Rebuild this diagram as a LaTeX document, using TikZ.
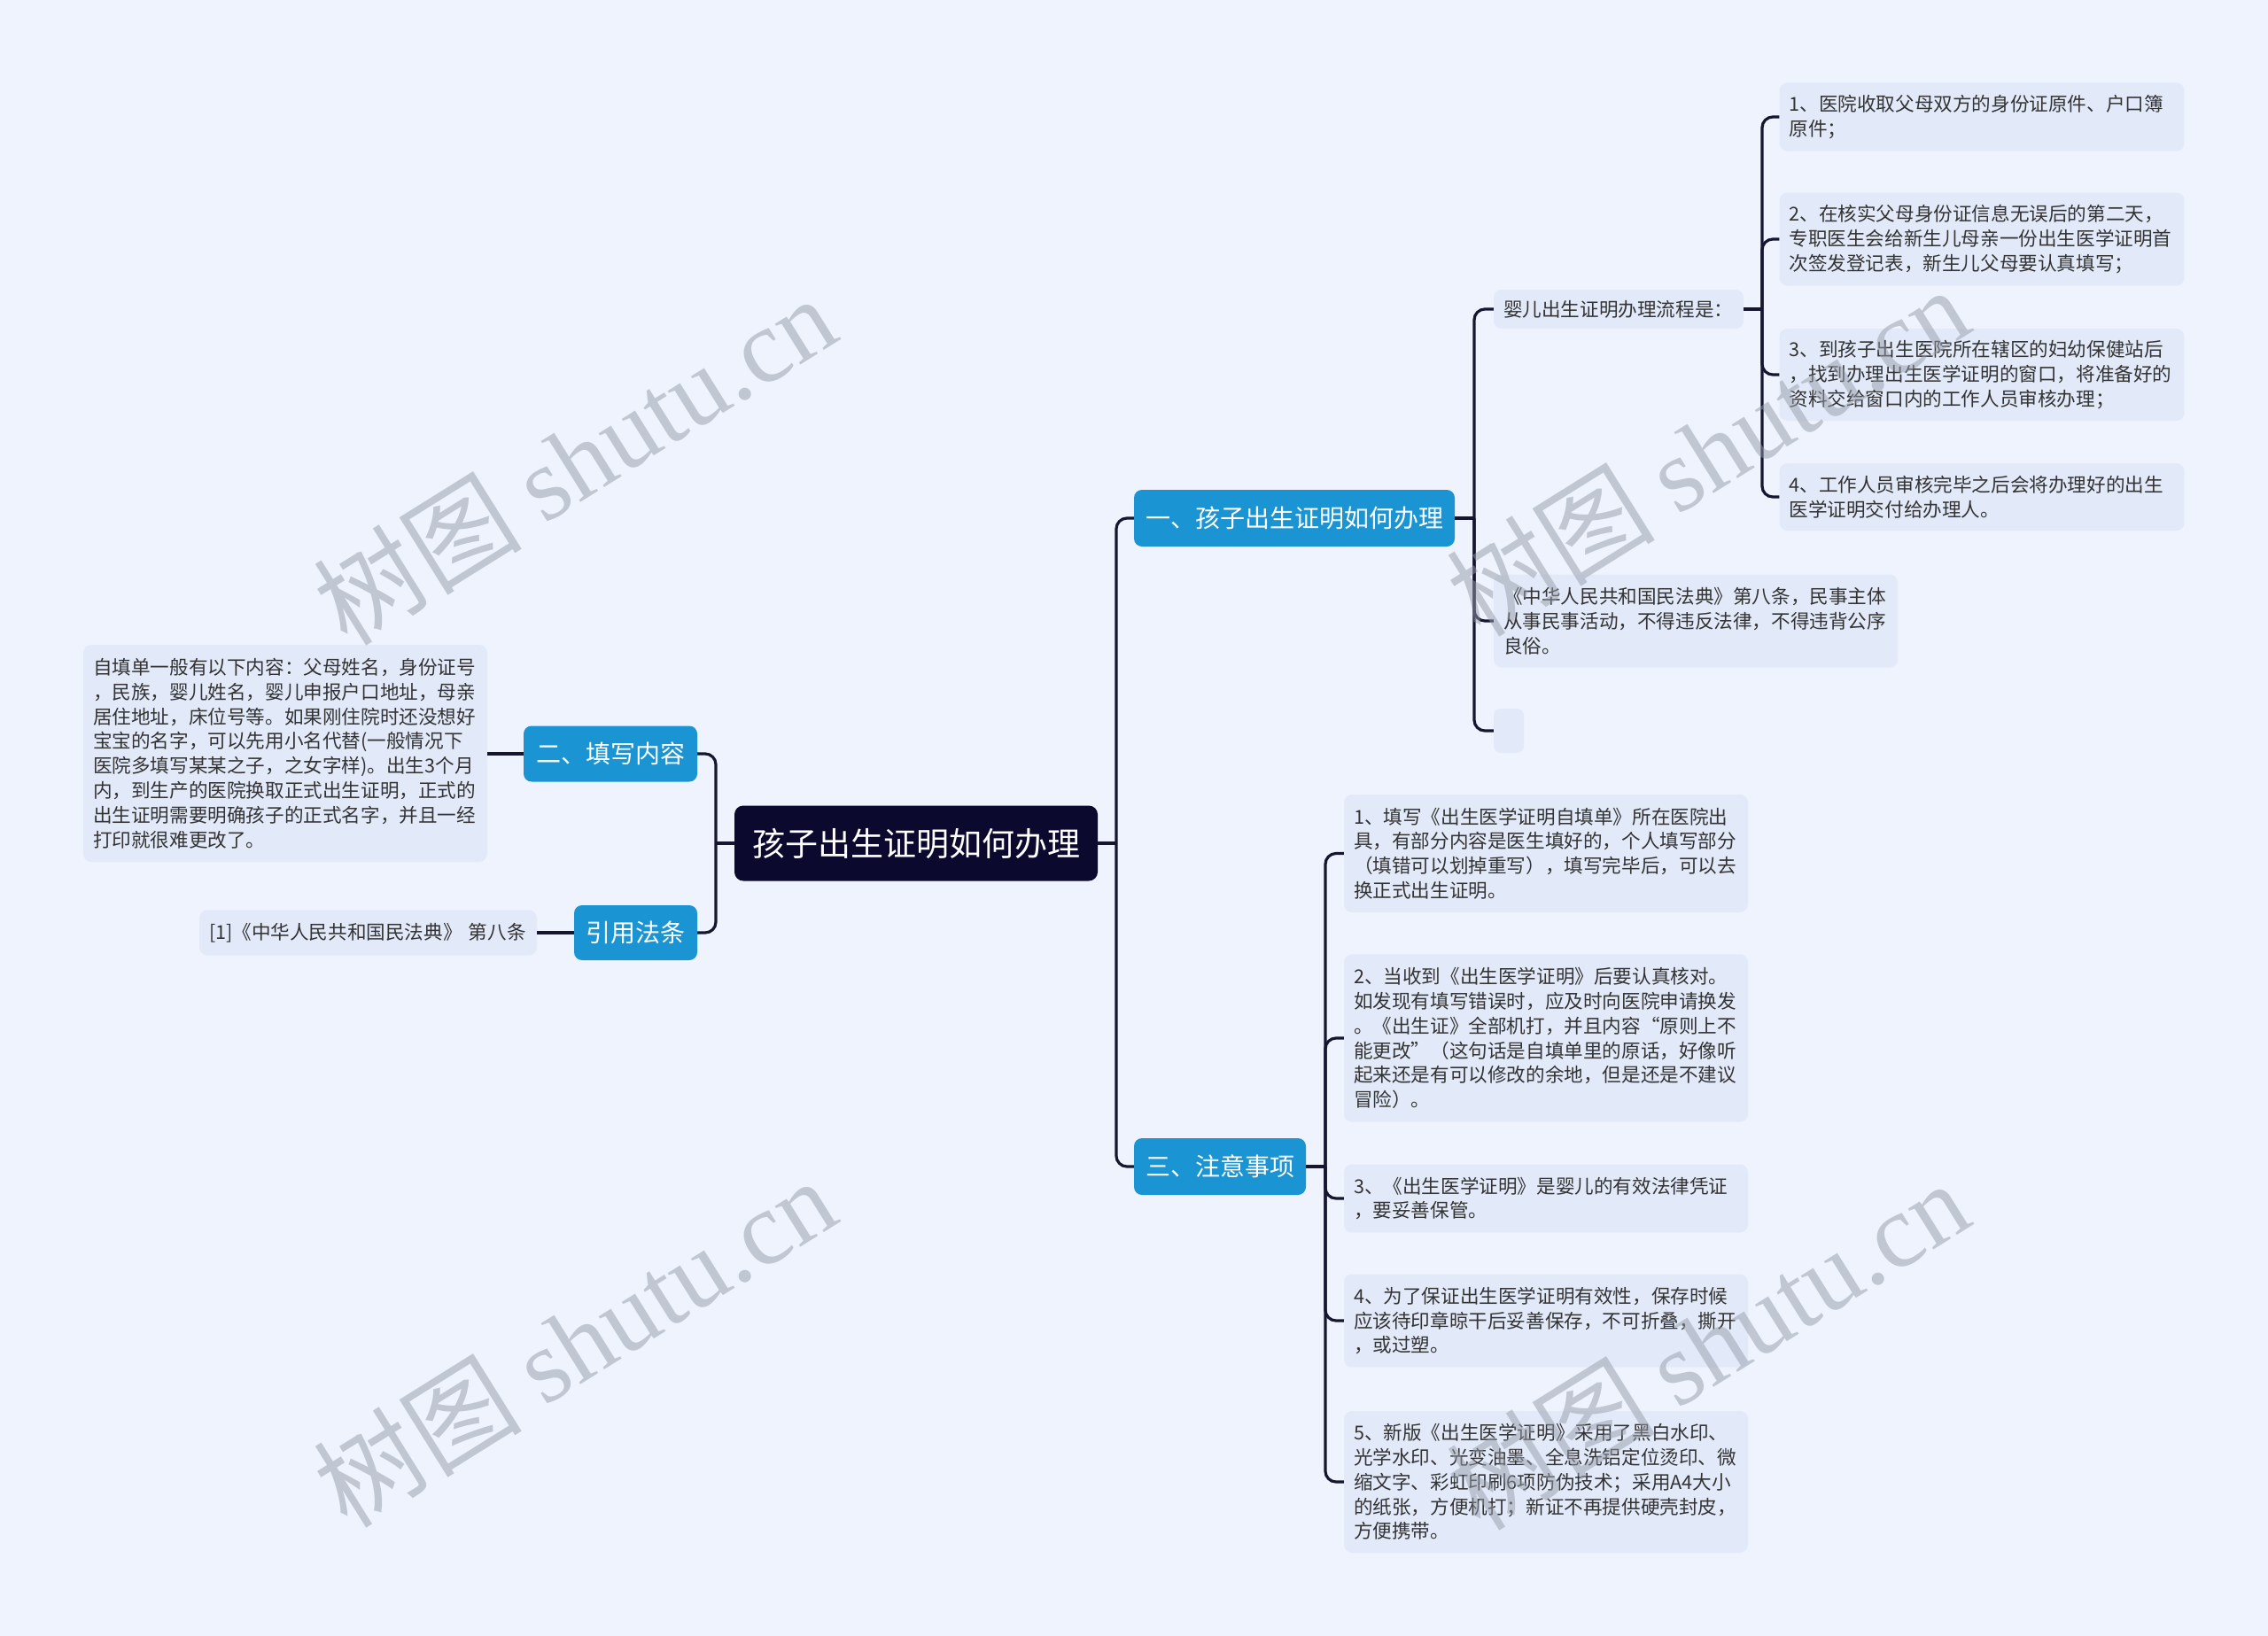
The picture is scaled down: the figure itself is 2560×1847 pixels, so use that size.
\documentclass[tikz,border=0pt]{standalone}
\usepackage{fontspec}
\setmainfont{Noto Sans CJK SC}
\newfontfamily\wmlatin{Liberation Serif}
\newfontfamily\wmcjk{Noto Sans CJK SC}
\definecolor{bgc}{RGB}{238,243,253}
\definecolor{leafc}{RGB}{226,234,250}
\definecolor{bluec}{RGB}{27,148,212}
\definecolor{rootc}{RGB}{11,9,46}
\definecolor{linec}{RGB}{22,22,48}
\definecolor{textc}{RGB}{51,51,51}
\definecolor{wmc}{RGB}{150,156,168}
\begin{document}
\begin{tikzpicture}[x=1pt,y=-1pt,
  conn/.style={draw=linec, line width=3.2pt, rounded corners=12pt},
  leaf/.style={fill=leafc, rounded corners=9pt, inner xsep=11pt, inner ysep=0pt,
    align=left, text=textc, font=\fontsize{21.6}{27.8}\selectfont, anchor=center},
  topic/.style={fill=bluec, rounded corners=9pt, text=white, inner sep=0pt,
    font=\fontsize{28}{34}\selectfont, anchor=center},
  rootn/.style={fill=rootc, rounded corners=10pt, text=white, inner sep=0pt,
    font=\fontsize{37}{44}\selectfont, anchor=center},
  wm/.style={text=wmc, opacity=0.5, rotate=32, anchor=center, inner sep=0pt}]
\fill[bgc] (0,0) rectangle (2560,1847);
\useasboundingbox (0,0) rectangle (2560,1847);

% root
\node[rootn, minimum width=410pt, minimum height=85pt] (root) at (1034,952) {孩子出生证明如何办理};

% level 1
\node[topic, minimum width=362pt, minimum height=64pt] (t1) at (1461,585) {一、孩子出生证明如何办理};
\node[topic, minimum width=194pt, minimum height=64pt] (t3) at (1377,1317) {三、注意事项};
\node[topic, minimum width=196pt, minimum height=63pt] (t2) at (689,851) {二、填写内容};
\node[topic, minimum width=139pt, minimum height=62pt] (t4) at (717.5,1053) {引用法条};

% under t1
\node[leaf, text width=260pt, minimum height=44pt] (b1) at (1827,349) {婴儿出生证明办理流程是：};
\node[leaf, text width=434pt, minimum height=105pt] (b2) at (1914,701) {《中华人民共和国民法典》第八条，民事主体\\从事民事活动，不得违反法律，不得违背公序\\良俗。};
\node[fill=leafc, rounded corners=8pt, inner sep=0pt, minimum width=34pt, minimum height=50pt] (b3) at (1703,825) {};

% under b1
\node[leaf, text width=435pt, minimum height=77pt] (a1) at (2237,132) {1、医院收取父母双方的身份证原件、户口簿\\原件；};
\node[leaf, text width=435pt, minimum height=105pt] (a2) at (2237,270) {2、在核实父母身份证信息无误后的第二天，\\专职医生会给新生儿母亲一份出生医学证明首\\次签发登记表，新生儿父母要认真填写；};
\node[leaf, text width=435pt, minimum height=104pt] (a3) at (2237,423) {3、到孩子出生医院所在辖区的妇幼保健站后\\，找到办理出生医学证明的窗口，将准备好的\\资料交给窗口内的工作人员审核办理；};
\node[leaf, text width=435pt, minimum height=76pt] (a4) at (2237,561) {4、工作人员审核完毕之后会将办理好的出生\\医学证明交付给办理人。};

% under t3
\node[leaf, text width=434pt, minimum height=133pt] (c1) at (1745,963.5) {1、填写《出生医学证明自填单》所在医院出\\具，有部分内容是医生填好的，个人填写部分\\（填错可以划掉重写），填写完毕后，可以去\\换正式出生证明。};
\node[leaf, text width=434pt, minimum height=189pt] (c2) at (1745,1172) {2、当收到《出生医学证明》后要认真核对。\\如发现有填写错误时，应及时向医院申请换发\\。《出生证》全部机打，并且内容“原则上不\\能更改”（这句话是自填单里的原话，好像听\\起来还是有可以修改的余地，但是还是不建议\\冒险）。};
\node[leaf, text width=434pt, minimum height=77pt] (c3) at (1745,1353) {3、《出生医学证明》是婴儿的有效法律凭证\\，要妥善保管。};
\node[leaf, text width=434pt, minimum height=105pt] (c4) at (1745,1491) {4、为了保证出生医学证明有效性，保存时候\\应该待印章晾干后妥善保存，不可折叠，撕开\\，或过塑。};
\node[leaf, text width=434pt, minimum height=160pt] (c5) at (1745,1673) {5、新版《出生医学证明》采用了黑白水印、\\光学水印、光变油墨、全息洗铝定位烫印、微\\缩文字、彩虹印刷6项防伪技术；采用A4大小\\的纸张，方便机打；新证不再提供硬壳封皮，\\方便携带。};

% left side
\node[leaf, text width=434pt, minimum height=245pt] (d1) at (322,850.5) {自填单一般有以下内容：父母姓名，身份证号\\，民族，婴儿姓名，婴儿申报户口地址，母亲\\居住地址，床位号等。如果刚住院时还没想好\\宝宝的名字，可以先用小名代替(一般情况下\\医院多填写某某之子，之女字样)。出生3个月\\内，到生产的医院换取正式出生证明，正式的\\出生证明需要明确孩子的正式名字，并且一经\\打印就很难更改了。};
\node[leaf, text width=359pt, minimum height=51pt] (e1) at (415.5,1053) {[1]《中华人民共和国民法典》 第八条};

% junction coordinates
\coordinate (TR) at (1260,952);
\coordinate (TL) at (808,952);
\coordinate (T1) at (1664,585);
\coordinate (TB) at (1989,349);
\coordinate (T3) at (1496,1317);

% connectors
\draw[conn] (root.east) -- (TR);
\draw[conn] (t1.west) -| (TR);
\draw[conn] (t3.west) -| (TR);
\draw[conn] (root.west) -- (TL);
\draw[conn] (t2.east) -| (TL);
\draw[conn] (t4.east) -| (TL);
\draw[conn] (t2.west) -- (d1.east |- t2.west);
\draw[conn] (t4.west) -- (e1.east |- t4.west);

\draw[conn] (t1.east) -- (T1);
\draw[conn] (b1.west) -| (T1);
\draw[conn] (b2.west) -| (T1);
\draw[conn] (b3.west) -| (T1);

\draw[conn] (b1.east) -- (TB);
\draw[conn] (a1.west) -| (TB);
\draw[conn] (a2.west) -| (TB);
\draw[conn] (a3.west) -| (TB);
\draw[conn] (a4.west) -| (TB);

\draw[conn] (t3.east) -- (T3);
\draw[conn] (c1.west) -| (T3);
\draw[conn] (c2.west) -| (T3);
\draw[conn] (c3.west) -| (T3);
\draw[conn] (c4.west) -| (T3);
\draw[conn] (c5.west) -| (T3);

% watermarks
\node[wm] (w1) at (648,519) {\fontsize{118}{120}\selectfont\wmcjk 树图\ \wmlatin shutu.cn};
\node[wm] (w2) at (1927,509) {\fontsize{118}{120}\selectfont\wmcjk 树图\ \wmlatin shutu.cn};
\node[wm] (w3) at (648,1515) {\fontsize{118}{120}\selectfont\wmcjk 树图\ \wmlatin shutu.cn};
\node[wm] (w4) at (1927,1518) {\fontsize{118}{120}\selectfont\wmcjk 树图\ \wmlatin shutu.cn};
\end{tikzpicture}
\end{document}
